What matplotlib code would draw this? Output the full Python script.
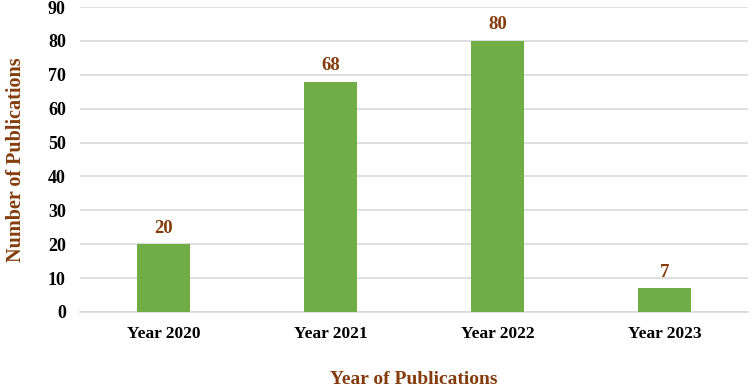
import matplotlib.pyplot as plt
import numpy as np

YEARS = ["Year 2020", "Year 2021", "Year 2022", "Year 2023"]
COUNTS = [20, 68, 80, 7]
Y_TICKS = list(range(0, 91, 10))

BAR_COLOR = "#70AD47"
LABEL_COLOR = "#843C0C"

plt.rcParams["font.family"] = ["Liberation Serif", "DejaVu Serif"]

fig = plt.figure(figsize=(7.52, 3.89), dpi=100, facecolor="white")
ax = fig.add_axes([0.106, 0.198, 0.889, 0.784])

x = np.arange(len(YEARS))
bars = ax.bar(x, COUNTS, width=0.315, color=BAR_COLOR, zorder=3)

for xi, v in zip(x, COUNTS):
    ax.text(xi, v + 2.2, str(v), ha="center", va="bottom",
            fontsize=13.5, fontweight="bold", color=LABEL_COLOR)

ax.set_xlim(-0.5, len(YEARS) - 0.5)
ax.set_ylim(0, 90)
ax.set_yticks(Y_TICKS)
ax.set_xticks(x)
ax.set_xticklabels(YEARS, fontsize=12.5, fontweight="bold")
ax.set_yticklabels([str(t) for t in Y_TICKS], fontsize=13, fontweight="bold")
ax.tick_params(axis="both", length=0)
ax.tick_params(axis="x", pad=10)
ax.tick_params(axis="y", pad=10)

ax.grid(axis="y", color="#D9D9D9", linewidth=1.2, zorder=0)
for name, spine in ax.spines.items():
    if name == "bottom":
        spine.set_color("#D9D9D9")
        spine.set_linewidth(1.2)
    else:
        spine.set_visible(False)

ax.set_ylabel("Number of Publications", fontsize=14.5, fontweight="bold",
              color=LABEL_COLOR, labelpad=16)
ax.set_xlabel("Year of Publications", fontsize=14, fontweight="bold",
              color=LABEL_COLOR, labelpad=21)

plt.savefig("out.png", dpi=100)
